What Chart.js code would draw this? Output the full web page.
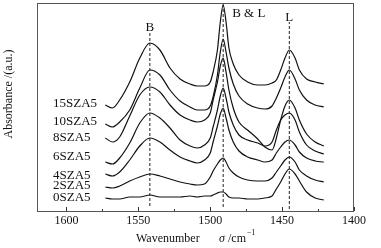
<!DOCTYPE html>
<html>
<head>
<meta charset="utf-8">
<script src="https://cdn.jsdelivr.net/npm/chart.js@4.4.1/dist/chart.umd.min.js"></script>
<style>
  body { margin: 0; background: #fff; }
  #chart { display: block; }
</style>
</head>
<body>
<canvas id="chart" width="381" height="248"></canvas>
<script>
//wavenumber (cm-1) of every point
const wavenumber = [1573, 1568, 1563, 1556, 1549, 1542, 1535, 1528, 1521, 1514, 1509, 1504, 1500, 1498, 1495, 1493, 1491, 1489, 1487, 1484, 1480, 1474, 1467, 1462, 1457, 1454, 1451, 1448, 1445, 1441, 1438, 1433, 1427, 1421];

//sample names, top curve first
const seriesNames = ["15SZA5", "10SZA5", "8SZA5", "6SZA5", "4SZA5", "2SZA5", "0SZA5"];

//absorbance (a.u., curves already offset like in the figure)
const abs15 = [1.06, 1.03, 1.11, 1.29, 1.53, 1.68, 1.61, 1.43, 1.32, 1.27, 1.25, 1.25, 1.29, 1.39, 1.61, 1.89, 2.06, 1.89, 1.63, 1.47, 1.36, 1.29, 1.26, 1.26, 1.28, 1.31, 1.41, 1.53, 1.61, 1.53, 1.41, 1.32, 1.29, 1.27];
const abs10 = [0.87, 0.84, 0.89, 1.01, 1.23, 1.41, 1.36, 1.21, 1.10, 1.04, 1.01, 1.01, 1.05, 1.14, 1.36, 1.59, 1.72, 1.59, 1.43, 1.27, 1.15, 1.07, 1.03, 1.02, 1.05, 1.13, 1.23, 1.34, 1.41, 1.32, 1.21, 1.11, 1.06, 1.04];
const abs8 = [0.73, 0.69, 0.74, 0.95, 1.16, 1.24, 1.19, 1.06, 0.96, 0.91, 0.89, 0.91, 0.98, 1.11, 1.29, 1.45, 1.53, 1.39, 1.21, 1.03, 0.89, 0.81, 0.72, 0.64, 0.61, 0.73, 0.91, 1.05, 1.11, 1.03, 0.91, 0.77, 0.69, 0.65];
const abs6 = [0.49, 0.47, 0.53, 0.68, 0.88, 0.98, 0.93, 0.83, 0.71, 0.65, 0.63, 0.66, 0.73, 0.84, 1.01, 1.15, 1.23, 1.13, 0.99, 0.86, 0.76, 0.71, 0.68, 0.65, 0.69, 0.81, 0.91, 0.96, 0.98, 0.91, 0.79, 0.66, 0.60, 0.57];
const abs4 = [0.37, 0.35, 0.39, 0.51, 0.65, 0.73, 0.69, 0.61, 0.54, 0.50, 0.48, 0.51, 0.58, 0.69, 0.85, 0.97, 1.03, 0.93, 0.81, 0.69, 0.60, 0.54, 0.51, 0.49, 0.51, 0.58, 0.64, 0.69, 0.71, 0.66, 0.59, 0.53, 0.50, 0.49];
const abs2 = [0.24, 0.23, 0.25, 0.30, 0.34, 0.37, 0.35, 0.32, 0.29, 0.27, 0.26, 0.27, 0.34, 0.40, 0.47, 0.51, 0.53, 0.49, 0.43, 0.38, 0.34, 0.31, 0.30, 0.30, 0.33, 0.39, 0.45, 0.51, 0.54, 0.49, 0.41, 0.35, 0.31, 0.29];
const abs0 = [0.13, 0.12, 0.12, 0.14, 0.14, 0.16, 0.14, 0.14, 0.14, 0.15, 0.14, 0.15, 0.15, 0.16, 0.18, 0.19, 0.19, 0.17, 0.14, 0.13, 0.13, 0.12, 0.12, 0.13, 0.15, 0.22, 0.29, 0.37, 0.42, 0.37, 0.30, 0.19, 0.13, 0.11];

//band assignments and their dashed markers (from / to in a.u.)
const bandNames = ["B", "B & L", "L"];
const bandPositions = [1542, 1491, 1445];
const bandFrom = [0.05, 0.04, 0.02];
const bandTo = [1.78, 2.08, 1.89];

//x axis ticks
const tickValues = [1600, 1550, 1500, 1450, 1400];
const minorTickValues = [1575, 1525, 1475, 1425];

const serif = "'Liberation Serif', 'Times New Roman', serif";
const allSeries = [abs15, abs10, abs8, abs6, abs4, abs2, abs0];

var datasets = allSeries.map((vals, i) => ({
  label: seriesNames[i],
  data: wavenumber.map((w, j) => ({ x: w, y: vals[j] })),
  borderColor: "#111",
  borderWidth: 1.2,
  pointRadius: 0,
  cubicInterpolationMode: "monotone",
  fill: false
}));

bandPositions.forEach((b, i) => {
  datasets.push({
    label: bandNames[i],
    data: [{ x: b, y: bandFrom[i] }, { x: b, y: bandTo[i] }],
    borderColor: "#222",
    borderWidth: 1,
    borderDash: [3, 2],
    pointRadius: 0,
    fill: false
  });
});

//frame, inward ticks and all the text
const decorations = {
  id: "decorations",
  afterDatasetsDraw(chart) {
    const ctx = chart.ctx;
    const a = chart.chartArea;
    const xs = chart.scales.x;
    ctx.save();

    //box
    ctx.strokeStyle = "#555";
    ctx.lineWidth = 1;
    ctx.strokeRect(a.left + 0.5, a.top + 0.5, a.right - a.left - 1, a.bottom - a.top);

    //ticks pointing in
    ctx.strokeStyle = "#333";
    ctx.beginPath();
    tickValues.forEach((t) => {
      const px = Math.round(xs.getPixelForValue(t)) + 0.5;
      ctx.moveTo(px, a.bottom);
      ctx.lineTo(px, a.bottom - 4);
    });
    minorTickValues.forEach((t) => {
      const px = Math.round(xs.getPixelForValue(t)) + 0.5;
      ctx.moveTo(px, a.bottom);
      ctx.lineTo(px, a.bottom - 2);
    });
    ctx.stroke();

    ctx.fillStyle = "#111";

    //sample labels at the left of the curves
    const labelY = [104, 122, 138, 157, 175.5, 186, 197.5];
    ctx.font = "13px " + serif;
    ctx.textAlign = "left";
    ctx.textBaseline = "middle";
    seriesNames.forEach((n, i) => ctx.fillText(n, 53, labelY[i]));

    //band labels
    ctx.textAlign = "center";
    ctx.fillText(bandNames[0], xs.getPixelForValue(bandPositions[0]), 27.5);
    ctx.textAlign = "left";
    ctx.fillText(bandNames[1], xs.getPixelForValue(bandPositions[1]) + 9, 14);
    ctx.textAlign = "center";
    ctx.fillText(bandNames[2], xs.getPixelForValue(bandPositions[2]), 17.5);

    //x title: Wavenumber   σ /cm-1
    ctx.textAlign = "left";
    ctx.textBaseline = "alphabetic";
    ctx.font = "12px " + serif;
    ctx.fillText("Wavenumber", 136, 242);
    ctx.font = "italic 12px " + serif;
    ctx.fillText("σ", 219, 242);
    ctx.font = "12px " + serif;
    ctx.fillText("/cm", 228, 242);
    ctx.font = "8px " + serif;
    ctx.fillText("−1", 247, 235);

    //y title
    ctx.translate(9, 94);
    ctx.rotate(-Math.PI / 2);
    ctx.font = "12px " + serif;
    ctx.textAlign = "center";
    ctx.textBaseline = "middle";
    ctx.fillText("Absorbance /(a.u.)", 0, 0);

    ctx.restore();
  }
};

var myChart = new Chart(document.getElementById("chart").getContext("2d"), {
  type: "line",
  data: { datasets: datasets },
  plugins: [decorations],
  options: {
    responsive: false,
    animation: false,
    devicePixelRatio: 1,
    layout: { padding: { left: 0, right: 27, top: 3, bottom: 0 } },
    plugins: {
      legend: { display: false },
      tooltip: { enabled: false }
    },
    scales: {
      x: {
        type: "linear",
        reverse: true,
        min: 1400,
        max: 1620.5,
        grid: { display: false },
        border: { display: false },
        afterBuildTicks: (s) => { s.ticks = tickValues.map((v) => ({ value: v })); },
        afterFit: (s) => { s.height = 37; },
        ticks: {
          padding: -5,
          color: "#111",
          font: { family: serif, size: 12 },
          maxRotation: 0,
          callback: (v) => String(v)
        }
      },
      y: {
        min: 0,
        max: 2.08,
        grid: { display: false },
        border: { display: false },
        ticks: { display: false },
        afterFit: (s) => { s.width = 37; }
      }
    }
  }
});
</script>
</body>
</html>
